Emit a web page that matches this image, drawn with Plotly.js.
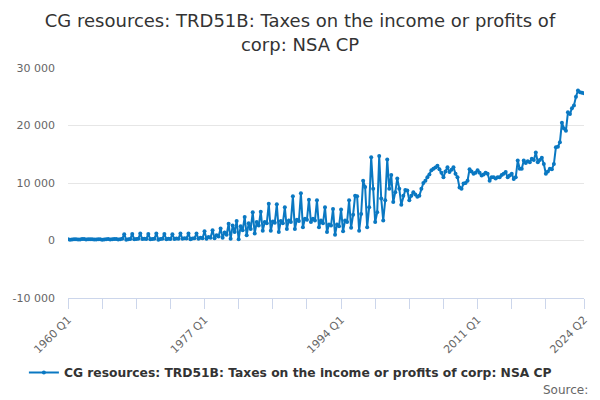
<!DOCTYPE html>
<html>
<head>
<meta charset="utf-8">
<script src="https://cdn.plot.ly/plotly-3.0.1.min.js"></script>
<style>
  html, body { margin: 0; padding: 0; background: #fff; }
  #myDiv { width: 600px; height: 400px; }
</style>
</head>
<body>
<div id="myDiv"></div>
<script>
// quarterly values, GBP million, one row per year from 1960 Q1 to 2024 Q2
var values = [
  200, 150, 180, 220,     // 1960
  230, 160, 190, 240,     // 1961
  250, 170, 200, 230,     // 1962
  220, 160, 180, 210,     // 1963
  200, 150, 190, 230,     // 1964
  240, 180, 200, 250,     // 1965
  260, 190, 210, 300,     // 1966
  1100, 150, 200, 250,    // 1967
  1150, 200, 250, 300,    // 1968
  1200, 250, 300, 250,    // 1969
  1150, 200, 250, 300,    // 1970
  1200, 150, 250, 300,    // 1971
  1150, 200, 300, 250,    // 1972
  1100, 250, 350, 300,    // 1973
  1200, 300, 400, 350,    // 1974
  1200, 200, 350, 400,    // 1975
  1200, 300, 500, 400,    // 1976
  1600, 300, 600, 500,    // 1977
  1800, 400, 900, 700,    // 1978
  2100, 500, 1400, 1000,  // 1979
  2900, 300, 2600, 1500,  // 1980
  3400, 200, 2500, 1800,  // 1981
  4100, 900, 3000, 2000,  // 1982
  4900, 1200, 3200, 2600, // 1983
  5000, 1700, 3200, 3000, // 1984
  6400, 1700, 3300, 3100, // 1985
  6300, 1500, 3400, 3000, // 1986
  5800, 2000, 3500, 3200, // 1987
  7700, 2000, 3600, 3400, // 1988
  8200, 2300, 3800, 3600, // 1989
  7100, 3200, 3800, 3500, // 1990
  7000, 2300, 3500, 3000, // 1991
  5800, 1500, 2800, 2600, // 1992
  5500, 1000, 2800, 2500, // 1993
  5400, 1600, 3500, 3200, // 1994
  7000, 2200, 4500, 7800, // 1995
  7700, 1700, 4600, 10400,    // 1996
  9300, 2300, 5800, 14500,    // 1997
  9000, 3200, 4900, 14700,    // 1998
  7300, 3500, 7000, 14100,    // 1999
  9000, 11400, 6700, 8400,    // 2000
  10800, 9000, 6200, 7800,    // 2001
  8800, 8700, 7000, 7800,     // 2002
  8400, 8000, 7600, 7800,     // 2003
  9000, 10000, 10400, 11000,  // 2004
  11500, 12200, 12500, 12700, // 2005
  13000, 12400, 11800, 11000, // 2006
  12000, 12750, 11900, 12300, // 2007
  12750, 11600, 11000, 9200,  // 2008
  9000, 9900, 10000, 10400,   // 2009
  12400, 12000, 11600, 11800, // 2010
  12200, 11800, 11300, 11500, // 2011
  11800, 11600, 10400, 11000, // 2012
  11000, 10800, 11000, 11000, // 2013
  11400, 11600, 11900, 11000, // 2014
  11300, 11600, 10700, 11000, // 2015
  13900, 12500, 12500, 13900, // 2016
  13500, 13800, 13600, 14200, // 2017
  14000, 15300, 13600, 14000, // 2018
  14400, 13300, 11600, 12000, // 2019
  12460, 12400, 13300, 16200, // 2020
  16300, 17100, 20500, 19500, // 2021
  19100, 22300, 22000, 23000, // 2022
  23500, 25000, 26100, 25800, // 2023
  25700, 25600                // 2024
];

var startYear = 1960;
var seriesName = 'CG resources: TRD51B: Taxes on the income or profits of corp: NSA CP';
var yTickVals = [-10000, 0, 10000, 20000, 30000];
var yTickText = ['-10 000', '0', '10 000', '20 000', '30 000'];
var labelledQuarters = ['1960 Q1', '1977 Q1', '1994 Q1', '2011 Q1', '2024 Q2'];

var quarters = [];
for (var i = 0; i < values.length; i++) {
  quarters.push((startYear + Math.floor(i / 4)) + ' Q' + (i % 4 + 1));
}

// tick marks every 17 quarters plus the last one, text only on a few
var xTickVals = [], xTickText = [];
for (var k = 0; k < quarters.length - 17; k += 17) {
  xTickVals.push(quarters[k]);
  xTickText.push(labelledQuarters.indexOf(quarters[k]) >= 0 ? quarters[k] : '');
}
xTickVals.push(quarters[quarters.length - 1]);
xTickText.push(quarters[quarters.length - 1]);

var font = 'DejaVu Sans, Verdana, sans-serif';

var data = [{
  x: quarters,
  y: values,
  type: 'scatter',
  mode: 'lines+markers',
  name: seriesName,
  line: { color: '#0a78c2', width: 2 },
  marker: { color: '#0a78c2', size: 4 },
  hoverinfo: 'x+y'
}];

var layout = {
  width: 600,
  height: 400,
  margin: { l: 68, r: 16, t: 68, b: 102 },
  paper_bgcolor: '#ffffff',
  plot_bgcolor: '#ffffff',
  font: { family: font, color: '#333333' },
  title: {
    text: 'CG resources: TRD51B: Taxes on the income or profits of<br>corp: NSA CP',
    font: { family: font, size: 18, color: '#333333' },
    x: 0.5, xanchor: 'center',
    y: 0.932, yanchor: 'middle'
  },
  showlegend: true,
  legend: {
    orientation: 'h',
    x: 0.431, xanchor: 'center',
    yref: 'container',
    y: 0.105, yanchor: 'top',
    font: { family: font, size: 12.3, color: '#333333', weight: 'bold' }
  },
  xaxis: {
    type: 'category',
    range: [0, quarters.length - 1],
    tickmode: 'array',
    tickvals: xTickVals,
    ticktext: xTickText,
    tickangle: -45,
    ticks: 'outside',
    ticklen: 10,
    tickcolor: '#ccd6eb',
    showline: true,
    linecolor: '#ccd6eb',
    linewidth: 1,
    showgrid: false,
    zeroline: false,
    tickfont: { family: font, size: 11, color: '#666666' }
  },
  yaxis: {
    range: [-10000, 30000],
    tickmode: 'array',
    tickvals: yTickVals,
    ticktext: yTickText,
    showgrid: true,
    gridcolor: '#e6e6e6',
    zeroline: false,
    showline: false,
    ticks: '',
    ticklabelstandoff: 12,
    tickfont: { family: font, size: 11, color: '#666666' }
  },
  annotations: [{
    text: 'Source:',
    xref: 'paper', yref: 'paper',
    x: 1.012, xanchor: 'right',
    y: -0.36, yanchor: 'top',
    showarrow: false,
    font: { family: font, size: 12, color: '#666666' }
  }]
};

Plotly.newPlot('myDiv', data, layout, { displayModeBar: false, staticPlot: true });
</script>
</body>
</html>
